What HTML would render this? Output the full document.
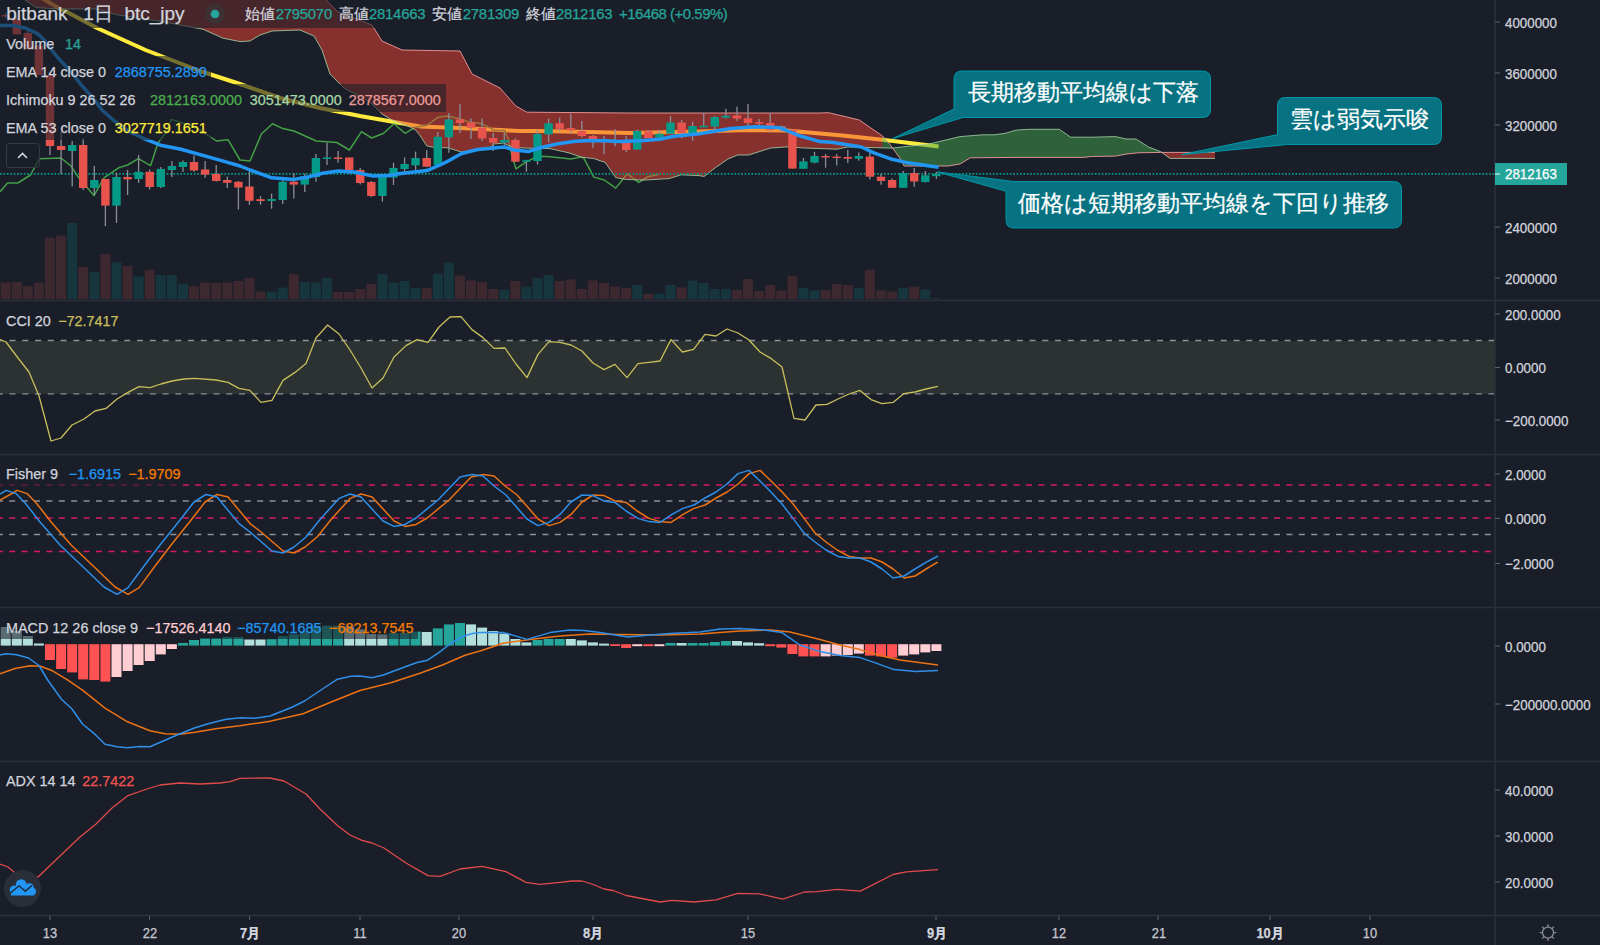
<!DOCTYPE html>
<html><head><meta charset="utf-8"><style>
html,body{margin:0;padding:0;width:1600px;height:945px;overflow:hidden;background:#1a1e29;}
body{position:relative;font-family:"Liberation Sans",sans-serif;}
.t{position:absolute;white-space:nowrap;line-height:16px;-webkit-text-stroke:0.25px currentColor;}
</style></head><body>
<svg width="1600" height="945" viewBox="0 0 1600 945" style="position:absolute;left:0;top:0">
<rect x="0" y="0" width="1600" height="945" fill="#1a1e29"/>
<defs><clipPath id="cm"><rect x="0" y="0" width="1494" height="300"/></clipPath><clipPath id="c2"><rect x="0" y="301" width="1494" height="153"/></clipPath><clipPath id="c3"><rect x="0" y="455" width="1494" height="152"/></clipPath><clipPath id="c4"><rect x="0" y="608" width="1494" height="153"/></clipPath><clipPath id="c5"><rect x="0" y="762" width="1494" height="153"/></clipPath></defs>
<g clip-path="url(#cm)">
<rect x="0.7" y="282.4" width="10" height="16.6" fill="#3d2830"/>
<rect x="11.8" y="282.0" width="10" height="17.0" fill="#3d2830"/>
<rect x="22.8" y="286.0" width="10" height="13.0" fill="#3d2830"/>
<rect x="33.9" y="282.6" width="10" height="16.4" fill="#3d2830"/>
<rect x="45.0" y="238.0" width="10" height="61.0" fill="#3d2830"/>
<rect x="56.1" y="235.6" width="10" height="63.4" fill="#3d2830"/>
<rect x="67.2" y="223.0" width="10" height="76.0" fill="#16353c"/>
<rect x="78.2" y="267.0" width="10" height="32.0" fill="#3d2830"/>
<rect x="89.3" y="272.0" width="10" height="27.0" fill="#16353c"/>
<rect x="100.4" y="254.0" width="10" height="45.0" fill="#3d2830"/>
<rect x="111.5" y="262.4" width="10" height="36.6" fill="#16353c"/>
<rect x="122.6" y="266.0" width="10" height="33.0" fill="#3d2830"/>
<rect x="133.6" y="276.4" width="10" height="22.6" fill="#16353c"/>
<rect x="144.7" y="270.0" width="10" height="29.0" fill="#3d2830"/>
<rect x="155.8" y="275.0" width="10" height="24.0" fill="#16353c"/>
<rect x="166.9" y="275.0" width="10" height="24.0" fill="#16353c"/>
<rect x="178.0" y="283.6" width="10" height="15.4" fill="#16353c"/>
<rect x="189.0" y="286.4" width="10" height="12.6" fill="#3d2830"/>
<rect x="200.1" y="282.4" width="10" height="16.6" fill="#3d2830"/>
<rect x="211.2" y="283.0" width="10" height="16.0" fill="#3d2830"/>
<rect x="222.3" y="282.4" width="10" height="16.6" fill="#3d2830"/>
<rect x="233.4" y="281.0" width="10" height="18.0" fill="#3d2830"/>
<rect x="244.4" y="278.0" width="10" height="21.0" fill="#3d2830"/>
<rect x="255.5" y="291.6" width="10" height="7.4" fill="#3d2830"/>
<rect x="266.6" y="291.6" width="10" height="7.4" fill="#16353c"/>
<rect x="277.7" y="287.6" width="10" height="11.4" fill="#16353c"/>
<rect x="288.8" y="274.0" width="10" height="25.0" fill="#3d2830"/>
<rect x="299.8" y="282.0" width="10" height="17.0" fill="#16353c"/>
<rect x="310.9" y="282.4" width="10" height="16.6" fill="#16353c"/>
<rect x="322.0" y="278.0" width="10" height="21.0" fill="#16353c"/>
<rect x="333.1" y="292.0" width="10" height="7.0" fill="#3d2830"/>
<rect x="344.2" y="292.0" width="10" height="7.0" fill="#3d2830"/>
<rect x="355.2" y="289.0" width="10" height="10.0" fill="#3d2830"/>
<rect x="366.3" y="284.0" width="10" height="15.0" fill="#3d2830"/>
<rect x="377.4" y="274.0" width="10" height="25.0" fill="#16353c"/>
<rect x="388.5" y="282.6" width="10" height="16.4" fill="#16353c"/>
<rect x="399.6" y="281.0" width="10" height="18.0" fill="#16353c"/>
<rect x="410.6" y="288.0" width="10" height="11.0" fill="#16353c"/>
<rect x="421.7" y="288.0" width="10" height="11.0" fill="#3d2830"/>
<rect x="432.8" y="273.6" width="10" height="25.4" fill="#16353c"/>
<rect x="443.9" y="262.6" width="10" height="36.4" fill="#16353c"/>
<rect x="455.0" y="275.6" width="10" height="23.4" fill="#3d2830"/>
<rect x="466.0" y="280.4" width="10" height="18.6" fill="#3d2830"/>
<rect x="477.1" y="282.0" width="10" height="17.0" fill="#3d2830"/>
<rect x="488.2" y="289.0" width="10" height="10.0" fill="#3d2830"/>
<rect x="499.3" y="289.6" width="10" height="9.4" fill="#16353c"/>
<rect x="510.4" y="281.0" width="10" height="18.0" fill="#3d2830"/>
<rect x="521.4" y="286.6" width="10" height="12.4" fill="#16353c"/>
<rect x="532.5" y="278.0" width="10" height="21.0" fill="#16353c"/>
<rect x="543.6" y="275.0" width="10" height="24.0" fill="#16353c"/>
<rect x="554.7" y="281.0" width="10" height="18.0" fill="#3d2830"/>
<rect x="565.8" y="279.4" width="10" height="19.6" fill="#3d2830"/>
<rect x="576.8" y="289.0" width="10" height="10.0" fill="#3d2830"/>
<rect x="587.9" y="280.4" width="10" height="18.6" fill="#3d2830"/>
<rect x="599.0" y="283.0" width="10" height="16.0" fill="#3d2830"/>
<rect x="610.1" y="286.6" width="10" height="12.4" fill="#3d2830"/>
<rect x="621.2" y="288.0" width="10" height="11.0" fill="#3d2830"/>
<rect x="632.2" y="285.0" width="10" height="14.0" fill="#16353c"/>
<rect x="643.3" y="294.0" width="10" height="5.0" fill="#3d2830"/>
<rect x="654.4" y="293.6" width="10" height="5.4" fill="#16353c"/>
<rect x="665.5" y="285.0" width="10" height="14.0" fill="#16353c"/>
<rect x="676.6" y="287.4" width="10" height="11.6" fill="#3d2830"/>
<rect x="687.6" y="280.6" width="10" height="18.4" fill="#16353c"/>
<rect x="698.7" y="283.0" width="10" height="16.0" fill="#16353c"/>
<rect x="709.8" y="289.0" width="10" height="10.0" fill="#16353c"/>
<rect x="720.9" y="289.0" width="10" height="10.0" fill="#16353c"/>
<rect x="732.0" y="290.0" width="10" height="9.0" fill="#3d2830"/>
<rect x="743.0" y="279.0" width="10" height="20.0" fill="#3d2830"/>
<rect x="754.1" y="291.0" width="10" height="8.0" fill="#3d2830"/>
<rect x="765.2" y="285.0" width="10" height="14.0" fill="#3d2830"/>
<rect x="776.3" y="290.4" width="10" height="8.6" fill="#3d2830"/>
<rect x="787.4" y="276.0" width="10" height="23.0" fill="#3d2830"/>
<rect x="798.4" y="288.0" width="10" height="11.0" fill="#16353c"/>
<rect x="809.5" y="290.4" width="10" height="8.6" fill="#16353c"/>
<rect x="820.6" y="290.0" width="10" height="9.0" fill="#3d2830"/>
<rect x="831.7" y="284.0" width="10" height="15.0" fill="#3d2830"/>
<rect x="842.8" y="285.0" width="10" height="14.0" fill="#3d2830"/>
<rect x="853.8" y="288.0" width="10" height="11.0" fill="#16353c"/>
<rect x="864.9" y="270.0" width="10" height="29.0" fill="#3d2830"/>
<rect x="876.0" y="290.4" width="10" height="8.6" fill="#3d2830"/>
<rect x="887.1" y="291.6" width="10" height="7.4" fill="#3d2830"/>
<rect x="898.2" y="288.0" width="10" height="11.0" fill="#16353c"/>
<rect x="909.2" y="286.6" width="10" height="12.4" fill="#3d2830"/>
<rect x="920.3" y="289.4" width="10" height="9.6" fill="#16353c"/>
<rect x="931.4" y="298.0" width="10" height="1.0" fill="#16353c"/>
<polyline points="40.0,-3.0 60.0,9.0 67.0,12.0 97.0,28.0 145.5,50.0 200.0,71.0 240.0,84.0 280.0,98.0 320.0,108.0 360.0,116.0 400.0,123.0 420.0,126.4 460.0,128.0 520.0,131.0 541.0,131.0 588.7,132.0 630.0,133.0 699.4,131.6 747.0,130.0 786.7,130.5 820.0,133.6 842.3,135.4 882.5,139.7 938.6,146.6" fill="none" stroke="#ffeb3b" stroke-width="4" stroke-linejoin="round" stroke-linecap="butt"/>
<polyline points="0.0,191.7 7.6,183.0 17.8,183.0 30.5,175.0 39.4,158.7 61.0,158.0 71.0,166.0 78.7,177.8 94.0,195.6 104.0,177.8 119.0,167.6 127.6,165.0 138.4,158.7 150.5,165.7 158.0,142.9 165.7,132.7 171.5,119.4 196.9,127.8 216.5,141.0 228.0,139.7 240.0,160.0 250.0,161.0 261.4,134.0 272.5,123.8 282.9,128.6 294.0,131.0 316.2,141.0 336.8,142.5 349.5,150.0 361.4,131.7 371.7,138.0 383.7,133.3 394.0,123.8 405.0,133.3 414.7,127.6 426.9,125.3 438.0,117.3 447.5,116.0 459.7,118.7 469.0,122.0 481.2,123.4 490.6,128.1 494.4,130.5 504.7,130.5 508.4,139.4 511.2,152.5 515.9,168.9 526.2,161.9 532.8,158.6 541.2,156.2 550.0,156.7 571.0,159.0 580.5,157.1 583.8,158.1 593.8,177.1 604.3,180.0 615.7,188.1 622.9,179.3 627.1,173.8 633.8,178.6 638.6,182.4 644.3,179.0 648.1,176.7 658.6,174.6" fill="none" stroke="#43a047" stroke-width="1.5" stroke-linejoin="round"/>
<polygon points="25.0,-2.0 26.0,-10.0 36.0,-10.0 60.0,-10.0 97.0,-10.0 116.0,-10.0 161.0,-10.0 203.0,-10.0 223.0,-10.0 240.0,-10.0 250.0,-10.0 260.0,-10.0 272.0,-10.0 300.0,-10.0 314.0,-10.0 322.0,-10.0 326.0,0.0 330.0,4.0 338.0,12.0 344.0,14.3 370.0,24.2 372.0,25.0 382.0,41.0 392.0,45.5 402.0,50.0 410.0,50.1 415.6,50.2 419.4,50.3 426.9,50.4 433.4,50.5 447.5,50.8 460.0,51.0 461.6,54.1 472.0,74.0 489.7,82.8 494.4,85.2 500.0,88.0 503.8,92.3 509.4,98.7 515.7,105.9 519.7,108.2 526.8,112.2 531.9,112.2 550.0,112.4 569.0,112.5 581.4,112.6 593.8,112.7 605.2,112.8 615.7,112.9 626.2,113.0 630.0,113.0 645.2,113.0 669.0,113.0 681.4,113.0 700.0,113.0 704.0,113.0 715.2,113.0 728.0,113.0 737.5,113.0 748.6,113.0 770.8,113.0 788.3,113.0 804.0,113.0 820.0,113.0 828.6,112.7 837.0,114.7 847.6,117.2 859.3,120.0 882.5,136.0 882.5,147.9 859.3,147.3 847.6,147.0 837.0,149.2 828.6,148.9 820.0,148.6 804.0,148.0 788.3,146.8 770.8,148.0 748.6,155.0 737.5,155.0 728.0,159.0 715.2,167.8 704.0,176.5 700.0,175.7 681.4,174.8 669.0,178.6 645.2,180.0 630.0,179.6 626.2,179.5 615.7,177.6 605.2,162.4 593.8,158.6 581.4,157.1 569.0,152.9 550.0,148.6 531.9,148.3 526.8,148.1 519.7,147.8 515.7,147.1 509.4,146.0 503.8,143.0 500.0,143.4 494.4,144.0 489.7,147.8 472.0,150.4 461.6,152.0 460.0,151.5 447.5,147.8 433.4,147.3 426.9,146.0 419.4,134.7 415.6,130.0 410.0,127.0 402.0,123.9 392.0,120.0 382.0,114.0 372.0,104.0 370.0,102.0 344.0,88.0 338.0,82.0 330.0,74.0 326.0,62.0 322.0,50.0 314.0,36.0 300.0,30.0 272.0,31.0 260.0,35.0 250.0,41.0 240.0,41.6 223.0,38.2 203.0,29.2 161.0,21.4 116.0,14.6 97.0,9.0 60.0,9.0 36.0,7.6 26.0,0.7" fill="rgba(244,67,54,0.5)"/>
<polygon points="882.5,147.9 890.0,148.1 892.0,148.1 899.5,147.2 904.2,146.7 930.0,143.8 948.0,139.5 960.0,136.6 970.3,135.8 982.5,134.8 993.8,134.8 1005.0,133.4 1014.4,130.7 1016.0,130.2 1027.5,129.3 1059.4,129.3 1070.6,137.2 1083.8,137.2 1091.2,137.2 1115.6,136.6 1126.0,139.0 1126.9,139.0 1136.0,139.0 1138.0,140.3 1148.4,147.0 1160.6,151.6 1160.6,152.4 1148.4,152.6 1138.0,152.8 1136.0,153.0 1126.9,154.0 1126.0,154.2 1115.6,156.1 1091.2,156.5 1083.8,157.4 1070.6,157.4 1059.4,157.4 1027.5,157.4 1016.0,157.4 1014.4,157.4 1005.0,157.5 993.8,157.6 982.5,157.7 970.3,157.8 960.0,164.0 948.0,166.0 930.0,166.0 904.2,166.0 899.5,157.7 892.0,147.2 890.0,144.4 882.5,136.0" fill="rgba(67,165,77,0.5)"/>
<polygon points="1160.6,152.4 1170.0,152.4 1215.0,152.4 1215.0,158.4 1170.0,158.4 1160.6,151.6" fill="rgba(244,67,54,0.5)"/>
<polyline points="25.0,0.0 36.0,7.6 60.0,9.0 97.0,9.0 116.0,14.6 161.0,21.4 203.0,29.2 223.0,38.2 240.0,41.6 250.0,41.0 260.0,35.0 272.0,31.0 300.0,30.0 314.0,36.0 322.0,50.0 330.0,74.0 344.0,88.0 370.0,102.0 382.0,114.0 392.0,120.0 410.0,127.0 415.6,130.0 419.4,134.7 426.9,146.0 433.4,147.3 447.5,147.8 461.6,152.0 489.7,147.8 494.4,144.0 503.8,143.0 509.4,146.0 519.7,147.8 531.9,148.3 550.0,148.6 569.0,152.9 581.4,157.1 593.8,158.6 605.2,162.4 615.7,177.6 626.2,179.5 645.2,180.0 669.0,178.6 681.4,174.8 700.0,175.7 704.0,176.5 715.2,167.8 728.0,159.0 737.5,155.0 748.6,155.0 770.8,148.0 788.3,146.8 804.0,148.0 837.0,149.2 847.6,147.0 892.0,148.1 930.0,143.8 960.0,136.6 982.5,134.8 993.8,134.8 1005.0,133.4 1016.0,130.2 1027.5,129.3 1059.4,129.3 1070.6,137.2 1091.2,137.2 1115.6,136.6 1126.0,139.0 1136.0,139.0 1148.4,147.0 1160.6,151.6 1170.0,158.4 1215.0,158.4" fill="none" stroke="#a5d6a7" stroke-width="1" opacity="0.8"/>
<polyline points="326.0,0.0 338.0,12.0 372.0,25.0 382.0,41.0 402.0,50.0 460.0,51.0 472.0,74.0 500.0,88.0 515.7,105.9 526.8,112.2 630.0,113.0 820.0,113.0 828.6,112.7 859.3,120.0 882.5,136.0 890.0,144.4 899.5,157.7 904.2,166.0 948.0,166.0 960.0,164.0 970.3,157.8 1014.4,157.4 1083.8,157.4 1091.2,156.5 1115.6,156.1 1126.9,154.0 1138.0,152.8 1160.6,152.4 1215.0,152.4" fill="none" stroke="#ef9a9a" stroke-width="1" opacity="0.9"/>
<line x1="0" y1="173.9" x2="1494" y2="173.9" stroke="#049a88" stroke-width="1.6" stroke-dasharray="1.7 1.7"/>
<line x1="5.7" y1="13.0" x2="5.7" y2="18.0" stroke="#8c8f98" stroke-width="1.3"/>
<rect x="1.5" y="15.0" width="8.4" height="1.5" fill="#e8544d"/>
<line x1="16.8" y1="16.5" x2="16.8" y2="34.3" stroke="#8c8f98" stroke-width="1.3"/>
<rect x="12.6" y="19.0" width="8.4" height="15.3" fill="#e8544d"/>
<line x1="27.8" y1="30.0" x2="27.8" y2="49.5" stroke="#8c8f98" stroke-width="1.3"/>
<rect x="23.6" y="33.0" width="8.4" height="16.5" fill="#e8544d"/>
<line x1="38.9" y1="44.0" x2="38.9" y2="75.0" stroke="#8c8f98" stroke-width="1.3"/>
<rect x="34.7" y="45.7" width="8.4" height="29.3" fill="#e8544d"/>
<line x1="50.0" y1="75.0" x2="50.0" y2="155.0" stroke="#8c8f98" stroke-width="1.3"/>
<rect x="45.8" y="75.0" width="8.4" height="71.0" fill="#e8544d"/>
<line x1="61.1" y1="132.0" x2="61.1" y2="174.0" stroke="#8c8f98" stroke-width="1.3"/>
<rect x="56.9" y="146.0" width="8.4" height="4.0" fill="#e8544d"/>
<line x1="72.2" y1="141.0" x2="72.2" y2="186.6" stroke="#8c8f98" stroke-width="1.3"/>
<rect x="68.0" y="145.0" width="8.4" height="6.0" fill="#049a88"/>
<line x1="83.2" y1="138.0" x2="83.2" y2="190.0" stroke="#8c8f98" stroke-width="1.3"/>
<rect x="79.0" y="145.0" width="8.4" height="43.0" fill="#e8544d"/>
<line x1="94.3" y1="166.0" x2="94.3" y2="195.0" stroke="#8c8f98" stroke-width="1.3"/>
<rect x="90.1" y="180.0" width="8.4" height="8.0" fill="#049a88"/>
<line x1="105.4" y1="179.0" x2="105.4" y2="226.0" stroke="#8c8f98" stroke-width="1.3"/>
<rect x="101.2" y="179.0" width="8.4" height="26.6" fill="#e8544d"/>
<line x1="116.5" y1="172.6" x2="116.5" y2="223.0" stroke="#8c8f98" stroke-width="1.3"/>
<rect x="112.3" y="177.0" width="8.4" height="28.6" fill="#049a88"/>
<line x1="127.6" y1="170.0" x2="127.6" y2="195.0" stroke="#8c8f98" stroke-width="1.3"/>
<rect x="123.4" y="177.0" width="8.4" height="2.4" fill="#e8544d"/>
<line x1="138.6" y1="155.0" x2="138.6" y2="182.8" stroke="#8c8f98" stroke-width="1.3"/>
<rect x="134.4" y="171.8" width="8.4" height="7.2" fill="#049a88"/>
<line x1="149.7" y1="169.5" x2="149.7" y2="189.6" stroke="#8c8f98" stroke-width="1.3"/>
<rect x="145.5" y="171.8" width="8.4" height="15.2" fill="#e8544d"/>
<line x1="160.8" y1="167.0" x2="160.8" y2="188.0" stroke="#8c8f98" stroke-width="1.3"/>
<rect x="156.6" y="168.9" width="8.4" height="18.1" fill="#049a88"/>
<line x1="171.9" y1="161.0" x2="171.9" y2="177.0" stroke="#8c8f98" stroke-width="1.3"/>
<rect x="167.7" y="166.0" width="8.4" height="4.0" fill="#049a88"/>
<line x1="183.0" y1="160.6" x2="183.0" y2="172.0" stroke="#8c8f98" stroke-width="1.3"/>
<rect x="178.8" y="162.0" width="8.4" height="5.0" fill="#049a88"/>
<line x1="194.0" y1="155.5" x2="194.0" y2="171.8" stroke="#8c8f98" stroke-width="1.3"/>
<rect x="189.8" y="162.0" width="8.4" height="8.5" fill="#e8544d"/>
<line x1="205.1" y1="161.0" x2="205.1" y2="177.8" stroke="#8c8f98" stroke-width="1.3"/>
<rect x="200.9" y="169.5" width="8.4" height="5.1" fill="#e8544d"/>
<line x1="216.2" y1="165.0" x2="216.2" y2="181.6" stroke="#8c8f98" stroke-width="1.3"/>
<rect x="212.0" y="174.0" width="8.4" height="7.0" fill="#e8544d"/>
<line x1="227.3" y1="176.5" x2="227.3" y2="188.0" stroke="#8c8f98" stroke-width="1.3"/>
<rect x="223.1" y="180.0" width="8.4" height="2.8" fill="#e8544d"/>
<line x1="238.4" y1="181.0" x2="238.4" y2="209.5" stroke="#8c8f98" stroke-width="1.3"/>
<rect x="234.2" y="181.8" width="8.4" height="5.7" fill="#e8544d"/>
<line x1="249.4" y1="170.6" x2="249.4" y2="204.8" stroke="#8c8f98" stroke-width="1.3"/>
<rect x="245.2" y="186.5" width="8.4" height="14.3" fill="#e8544d"/>
<line x1="260.5" y1="196.0" x2="260.5" y2="204.8" stroke="#8c8f98" stroke-width="1.3"/>
<rect x="256.3" y="199.2" width="8.4" height="1.8" fill="#e8544d"/>
<line x1="271.6" y1="193.7" x2="271.6" y2="208.7" stroke="#8c8f98" stroke-width="1.3"/>
<rect x="267.4" y="199.0" width="8.4" height="2.0" fill="#049a88"/>
<line x1="282.7" y1="180.0" x2="282.7" y2="204.0" stroke="#8c8f98" stroke-width="1.3"/>
<rect x="278.5" y="181.7" width="8.4" height="18.3" fill="#049a88"/>
<line x1="293.8" y1="173.0" x2="293.8" y2="198.4" stroke="#8c8f98" stroke-width="1.3"/>
<rect x="289.6" y="181.7" width="8.4" height="2.9" fill="#e8544d"/>
<line x1="304.8" y1="173.8" x2="304.8" y2="192.0" stroke="#8c8f98" stroke-width="1.3"/>
<rect x="300.6" y="176.0" width="8.4" height="8.6" fill="#049a88"/>
<line x1="315.9" y1="154.0" x2="315.9" y2="181.7" stroke="#8c8f98" stroke-width="1.3"/>
<rect x="311.7" y="158.0" width="8.4" height="19.0" fill="#049a88"/>
<line x1="327.0" y1="143.0" x2="327.0" y2="165.0" stroke="#8c8f98" stroke-width="1.3"/>
<rect x="322.8" y="157.5" width="8.4" height="1.5" fill="#049a88"/>
<line x1="338.1" y1="151.0" x2="338.1" y2="162.7" stroke="#8c8f98" stroke-width="1.3"/>
<rect x="333.9" y="157.5" width="8.4" height="1.5" fill="#e8544d"/>
<line x1="349.2" y1="157.5" x2="349.2" y2="173.8" stroke="#8c8f98" stroke-width="1.3"/>
<rect x="345.0" y="157.5" width="8.4" height="12.5" fill="#e8544d"/>
<line x1="360.2" y1="168.0" x2="360.2" y2="184.4" stroke="#8c8f98" stroke-width="1.3"/>
<rect x="356.0" y="170.0" width="8.4" height="13.0" fill="#e8544d"/>
<line x1="371.3" y1="181.0" x2="371.3" y2="197.0" stroke="#8c8f98" stroke-width="1.3"/>
<rect x="367.1" y="182.0" width="8.4" height="14.0" fill="#e8544d"/>
<line x1="382.4" y1="174.6" x2="382.4" y2="201.6" stroke="#8c8f98" stroke-width="1.3"/>
<rect x="378.2" y="177.0" width="8.4" height="19.0" fill="#049a88"/>
<line x1="393.5" y1="162.7" x2="393.5" y2="185.0" stroke="#8c8f98" stroke-width="1.3"/>
<rect x="389.3" y="168.0" width="8.4" height="9.5" fill="#049a88"/>
<line x1="404.6" y1="157.5" x2="404.6" y2="172.0" stroke="#8c8f98" stroke-width="1.3"/>
<rect x="400.4" y="164.0" width="8.4" height="5.0" fill="#049a88"/>
<line x1="415.6" y1="151.6" x2="415.6" y2="170.6" stroke="#8c8f98" stroke-width="1.3"/>
<rect x="411.4" y="158.0" width="8.4" height="7.4" fill="#049a88"/>
<line x1="426.7" y1="150.0" x2="426.7" y2="166.7" stroke="#8c8f98" stroke-width="1.3"/>
<rect x="422.5" y="158.0" width="8.4" height="8.7" fill="#e8544d"/>
<line x1="437.8" y1="132.0" x2="437.8" y2="166.0" stroke="#8c8f98" stroke-width="1.3"/>
<rect x="433.6" y="136.8" width="8.4" height="28.6" fill="#049a88"/>
<line x1="448.9" y1="113.0" x2="448.9" y2="152.7" stroke="#8c8f98" stroke-width="1.3"/>
<rect x="444.7" y="119.4" width="8.4" height="17.9" fill="#049a88"/>
<line x1="460.0" y1="104.3" x2="460.0" y2="133.0" stroke="#8c8f98" stroke-width="1.3"/>
<rect x="455.8" y="119.4" width="8.4" height="3.6" fill="#e8544d"/>
<line x1="471.0" y1="118.6" x2="471.0" y2="139.0" stroke="#8c8f98" stroke-width="1.3"/>
<rect x="466.8" y="122.5" width="8.4" height="5.3" fill="#e8544d"/>
<line x1="482.1" y1="118.6" x2="482.1" y2="141.0" stroke="#8c8f98" stroke-width="1.3"/>
<rect x="477.9" y="127.8" width="8.4" height="10.6" fill="#e8544d"/>
<line x1="493.2" y1="132.9" x2="493.2" y2="151.0" stroke="#8c8f98" stroke-width="1.3"/>
<rect x="489.0" y="138.0" width="8.4" height="4.7" fill="#e8544d"/>
<line x1="504.3" y1="132.5" x2="504.3" y2="145.6" stroke="#8c8f98" stroke-width="1.3"/>
<rect x="500.1" y="140.0" width="8.4" height="2.7" fill="#049a88"/>
<line x1="515.4" y1="138.4" x2="515.4" y2="162.0" stroke="#8c8f98" stroke-width="1.3"/>
<rect x="511.2" y="140.0" width="8.4" height="21.7" fill="#e8544d"/>
<line x1="526.4" y1="159.8" x2="526.4" y2="171.7" stroke="#8c8f98" stroke-width="1.3"/>
<rect x="522.2" y="160.3" width="8.4" height="1.5" fill="#049a88"/>
<line x1="537.5" y1="129.7" x2="537.5" y2="164.6" stroke="#8c8f98" stroke-width="1.3"/>
<rect x="533.3" y="134.0" width="8.4" height="27.0" fill="#049a88"/>
<line x1="548.6" y1="118.6" x2="548.6" y2="142.4" stroke="#8c8f98" stroke-width="1.3"/>
<rect x="544.4" y="123.3" width="8.4" height="11.1" fill="#049a88"/>
<line x1="559.7" y1="117.8" x2="559.7" y2="131.6" stroke="#8c8f98" stroke-width="1.3"/>
<rect x="555.5" y="123.3" width="8.4" height="5.6" fill="#e8544d"/>
<line x1="570.8" y1="113.8" x2="570.8" y2="132.9" stroke="#8c8f98" stroke-width="1.3"/>
<rect x="566.6" y="128.0" width="8.4" height="2.5" fill="#e8544d"/>
<line x1="581.8" y1="121.0" x2="581.8" y2="137.6" stroke="#8c8f98" stroke-width="1.3"/>
<rect x="577.6" y="131.0" width="8.4" height="5.0" fill="#e8544d"/>
<line x1="592.9" y1="135.0" x2="592.9" y2="148.0" stroke="#8c8f98" stroke-width="1.3"/>
<rect x="588.7" y="136.0" width="8.4" height="5.0" fill="#e8544d"/>
<line x1="604.0" y1="136.0" x2="604.0" y2="154.3" stroke="#8c8f98" stroke-width="1.3"/>
<rect x="599.8" y="140.8" width="8.4" height="1.5" fill="#e8544d"/>
<line x1="615.1" y1="128.9" x2="615.1" y2="146.3" stroke="#8c8f98" stroke-width="1.3"/>
<rect x="610.9" y="141.0" width="8.4" height="1.5" fill="#e8544d"/>
<line x1="626.2" y1="136.0" x2="626.2" y2="152.0" stroke="#8c8f98" stroke-width="1.3"/>
<rect x="622.0" y="142.0" width="8.4" height="8.0" fill="#e8544d"/>
<line x1="637.2" y1="129.7" x2="637.2" y2="149.5" stroke="#8c8f98" stroke-width="1.3"/>
<rect x="633.0" y="131.0" width="8.4" height="18.5" fill="#049a88"/>
<line x1="648.3" y1="130.0" x2="648.3" y2="138.0" stroke="#8c8f98" stroke-width="1.3"/>
<rect x="644.1" y="131.3" width="8.4" height="6.7" fill="#e8544d"/>
<line x1="659.4" y1="129.7" x2="659.4" y2="139.0" stroke="#8c8f98" stroke-width="1.3"/>
<rect x="655.2" y="133.7" width="8.4" height="3.9" fill="#049a88"/>
<line x1="670.5" y1="116.0" x2="670.5" y2="133.7" stroke="#8c8f98" stroke-width="1.3"/>
<rect x="666.3" y="122.5" width="8.4" height="11.2" fill="#049a88"/>
<line x1="681.6" y1="120.0" x2="681.6" y2="138.4" stroke="#8c8f98" stroke-width="1.3"/>
<rect x="677.4" y="122.5" width="8.4" height="10.5" fill="#e8544d"/>
<line x1="692.6" y1="121.7" x2="692.6" y2="140.8" stroke="#8c8f98" stroke-width="1.3"/>
<rect x="688.4" y="126.0" width="8.4" height="7.0" fill="#049a88"/>
<line x1="703.7" y1="113.0" x2="703.7" y2="127.3" stroke="#8c8f98" stroke-width="1.3"/>
<rect x="699.5" y="125.7" width="8.4" height="1.6" fill="#049a88"/>
<line x1="714.8" y1="116.0" x2="714.8" y2="128.9" stroke="#8c8f98" stroke-width="1.3"/>
<rect x="710.6" y="117.0" width="8.4" height="9.5" fill="#049a88"/>
<line x1="725.9" y1="108.7" x2="725.9" y2="118.6" stroke="#8c8f98" stroke-width="1.3"/>
<rect x="721.7" y="115.7" width="8.4" height="2.1" fill="#049a88"/>
<line x1="737.0" y1="106.7" x2="737.0" y2="121.0" stroke="#8c8f98" stroke-width="1.3"/>
<rect x="732.8" y="115.4" width="8.4" height="3.2" fill="#e8544d"/>
<line x1="748.0" y1="104.0" x2="748.0" y2="127.8" stroke="#8c8f98" stroke-width="1.3"/>
<rect x="743.8" y="118.3" width="8.4" height="4.7" fill="#e8544d"/>
<line x1="759.1" y1="119.0" x2="759.1" y2="126.2" stroke="#8c8f98" stroke-width="1.3"/>
<rect x="754.9" y="122.2" width="8.4" height="1.6" fill="#e8544d"/>
<line x1="770.2" y1="113.5" x2="770.2" y2="131.6" stroke="#8c8f98" stroke-width="1.3"/>
<rect x="766.0" y="123.0" width="8.4" height="7.0" fill="#e8544d"/>
<line x1="781.3" y1="125.5" x2="781.3" y2="131.5" stroke="#8c8f98" stroke-width="1.3"/>
<rect x="777.1" y="126.5" width="8.4" height="1.5" fill="#9598a1"/>
<line x1="792.4" y1="129.7" x2="792.4" y2="168.6" stroke="#8c8f98" stroke-width="1.3"/>
<rect x="788.2" y="129.7" width="8.4" height="38.9" fill="#e8544d"/>
<line x1="803.4" y1="158.0" x2="803.4" y2="168.8" stroke="#8c8f98" stroke-width="1.3"/>
<rect x="799.2" y="161.4" width="8.4" height="7.4" fill="#049a88"/>
<line x1="814.5" y1="151.9" x2="814.5" y2="163.5" stroke="#8c8f98" stroke-width="1.3"/>
<rect x="810.3" y="156.0" width="8.4" height="6.6" fill="#049a88"/>
<line x1="825.6" y1="154.0" x2="825.6" y2="167.7" stroke="#8c8f98" stroke-width="1.3"/>
<rect x="821.4" y="156.0" width="8.4" height="1.5" fill="#e8544d"/>
<line x1="836.7" y1="154.0" x2="836.7" y2="165.6" stroke="#8c8f98" stroke-width="1.3"/>
<rect x="832.5" y="156.6" width="8.4" height="1.5" fill="#e8544d"/>
<line x1="847.8" y1="149.7" x2="847.8" y2="163.0" stroke="#8c8f98" stroke-width="1.3"/>
<rect x="843.6" y="157.0" width="8.4" height="1.7" fill="#e8544d"/>
<line x1="858.8" y1="152.4" x2="858.8" y2="160.8" stroke="#8c8f98" stroke-width="1.3"/>
<rect x="854.6" y="156.0" width="8.4" height="2.7" fill="#049a88"/>
<line x1="869.9" y1="151.9" x2="869.9" y2="179.4" stroke="#8c8f98" stroke-width="1.3"/>
<rect x="865.7" y="156.6" width="8.4" height="20.1" fill="#e8544d"/>
<line x1="881.0" y1="174.0" x2="881.0" y2="184.7" stroke="#8c8f98" stroke-width="1.3"/>
<rect x="876.8" y="176.7" width="8.4" height="4.3" fill="#e8544d"/>
<line x1="892.1" y1="178.5" x2="892.1" y2="187.8" stroke="#8c8f98" stroke-width="1.3"/>
<rect x="887.9" y="180.0" width="8.4" height="7.8" fill="#e8544d"/>
<line x1="903.2" y1="171.0" x2="903.2" y2="187.8" stroke="#8c8f98" stroke-width="1.3"/>
<rect x="899.0" y="173.0" width="8.4" height="14.8" fill="#049a88"/>
<line x1="914.2" y1="168.0" x2="914.2" y2="186.8" stroke="#8c8f98" stroke-width="1.3"/>
<rect x="910.0" y="173.0" width="8.4" height="8.5" fill="#e8544d"/>
<line x1="925.3" y1="171.0" x2="925.3" y2="182.5" stroke="#8c8f98" stroke-width="1.3"/>
<rect x="921.1" y="175.3" width="8.4" height="6.7" fill="#049a88"/>
<line x1="936.4" y1="172.0" x2="936.4" y2="178.8" stroke="#8c8f98" stroke-width="1.3"/>
<rect x="932.2" y="173.9" width="8.4" height="2.3" fill="#049a88"/>
<polyline points="0.0,25.4 12.7,25.4 25.4,28.0 38.0,33.9 44.0,39.8 50.8,49.0 59.3,59.3 70.6,71.2 81.2,84.9 91.7,96.6 102.3,110.3 112.9,119.8 128.8,131.5 144.7,138.9 160.5,145.2 180.0,149.0 221.6,160.6 240.0,166.0 250.0,170.0 271.7,177.8 294.0,179.4 308.0,177.0 322.5,173.3 338.4,171.0 354.0,172.0 373.0,176.0 389.0,175.4 398.7,173.8 427.0,170.6 440.0,165.0 445.9,162.2 461.7,153.5 477.6,149.5 504.6,147.0 514.0,150.0 528.4,151.6 541.0,147.5 557.0,144.0 572.9,141.6 588.7,140.5 604.6,140.8 620.0,141.6 640.6,140.8 659.7,139.2 674.0,136.3 699.4,133.7 731.0,128.4 755.0,126.8 778.7,127.6 786.7,130.5 797.8,135.2 820.0,141.6 831.7,142.3 861.4,147.0 874.0,152.9 892.0,159.3 905.8,162.4 938.6,167.2" fill="none" stroke="#2196f3" stroke-width="3.5" stroke-linejoin="round" stroke-linecap="butt"/>
</g>
<g clip-path="url(#c2)">
<rect x="0" y="341" width="1494" height="53" fill="#2c3231"/>
<line x1="0" y1="340.5" x2="1494" y2="340.5" stroke="#8d9099" stroke-width="1.3" stroke-dasharray="6 6.75" stroke-dashoffset="3.2"/>
<line x1="0" y1="393.9" x2="1494" y2="393.9" stroke="#8d9099" stroke-width="1.3" stroke-dasharray="6 6.75" stroke-dashoffset="3.2"/>
<polyline points="0.0,339.6 6.0,342.0 18.0,358.0 29.0,372.0 39.0,396.0 51.0,441.0 61.0,438.0 72.0,425.0 84.0,419.0 95.0,411.0 106.0,408.4 117.0,399.0 128.0,392.4 139.0,386.6 150.0,387.6 161.0,384.0 172.0,381.0 184.0,379.0 195.0,378.4 216.0,380.0 228.0,382.4 239.0,388.4 250.0,390.4 261.0,402.4 272.0,400.4 283.0,380.4 295.0,372.4 306.0,363.6 316.0,338.0 327.6,325.0 339.0,334.0 350.0,350.0 361.0,368.0 372.0,388.0 383.0,378.0 394.0,357.0 406.0,345.6 417.0,339.6 428.0,342.4 439.0,327.0 450.0,317.0 461.0,316.6 472.0,329.6 483.0,337.6 494.0,348.4 505.0,348.0 516.0,364.0 527.0,377.6 538.0,354.4 549.0,341.6 560.0,342.4 571.0,345.0 582.0,351.0 593.0,363.0 604.0,369.6 615.0,364.4 627.0,377.6 638.0,363.6 649.0,362.4 660.0,361.0 671.0,339.6 682.4,352.0 693.6,349.4 705.0,334.4 716.0,336.0 727.0,329.0 738.0,333.0 749.0,340.0 760.0,352.0 771.0,358.4 782.0,367.0 794.0,418.4 805.0,420.0 816.0,405.0 827.0,404.4 838.0,399.0 849.0,394.0 860.0,390.4 871.0,399.6 882.0,403.6 893.0,402.4 904.0,393.6 915.0,392.0 926.0,389.0 938.0,386.4" fill="none" stroke="#c6bf5c" stroke-width="1.3" stroke-linejoin="round"/>
</g>
<g clip-path="url(#c3)">
<line x1="0" y1="485" x2="1494" y2="485" stroke="#d81b60" stroke-width="1.3" stroke-dasharray="6 6.4" stroke-dashoffset="3.2"/>
<line x1="0" y1="501" x2="1494" y2="501" stroke="#8d9099" stroke-width="1.3" stroke-dasharray="6 6.4" stroke-dashoffset="3.2"/>
<line x1="0" y1="518" x2="1494" y2="518" stroke="#d81b60" stroke-width="1.3" stroke-dasharray="6 6.4" stroke-dashoffset="3.2"/>
<line x1="0" y1="534.5" x2="1494" y2="534.5" stroke="#8d9099" stroke-width="1.3" stroke-dasharray="6 6.4" stroke-dashoffset="3.2"/>
<line x1="0" y1="551.5" x2="1494" y2="551.5" stroke="#d81b60" stroke-width="1.3" stroke-dasharray="6 6.4" stroke-dashoffset="3.2"/>
<polyline points="0.0,500.0 11.1,494.0 17.1,490.4 27.1,493.6 37.1,504.0 51.1,522.0 71.1,545.0 91.1,564.0 115.1,587.0 128.1,594.4 139.1,587.6 155.1,566.0 171.1,545.0 191.1,520.0 205.1,502.0 217.1,494.4 228.1,497.0 250.1,523.6 261.1,532.0 283.1,551.0 294.1,553.0 305.1,547.0 317.1,537.0 331.1,519.5 350.1,498.4 361.1,494.0 372.1,497.0 394.1,521.0 405.1,526.4 416.1,524.4 427.1,518.0 449.1,500.0 471.1,477.0 483.1,474.4 494.1,476.0 505.1,486.0 517.1,495.0 538.1,519.0 549.1,525.6 560.1,522.4 571.1,514.4 582.1,502.0 593.1,495.0 604.1,495.6 615.1,501.0 626.1,502.4 637.1,511.0 649.1,518.4 660.1,521.6 671.1,522.4 683.1,514.4 694.1,508.4 705.1,505.0 716.1,498.0 727.1,492.0 738.1,484.0 749.1,473.6 760.1,470.4 771.1,481.0 782.1,492.0 793.1,504.0 804.1,518.4 815.1,533.0 826.1,542.0 837.1,550.0 849.1,556.4 860.1,558.0 871.1,558.0 882.1,562.0 893.1,569.0 904.1,578.0 915.1,576.0 926.1,569.0 937.1,562.4 938.0,562.4" fill="none" stroke="#ec7314" stroke-width="1.5" stroke-linejoin="round"/>
<polyline points="0.0,494.0 6.0,490.4 16.0,493.6 26.0,504.0 40.0,522.0 60.0,545.0 80.0,564.0 104.0,587.0 117.0,594.4 128.0,587.6 144.0,566.0 160.0,545.0 180.0,520.0 194.0,502.0 206.0,494.4 217.0,497.0 239.0,523.6 250.0,532.0 272.0,551.0 283.0,553.0 294.0,547.0 306.0,537.0 320.0,519.5 339.0,498.4 350.0,494.0 361.0,497.0 383.0,521.0 394.0,526.4 405.0,524.4 416.0,518.0 438.0,500.0 460.0,477.0 472.0,474.4 483.0,476.0 494.0,486.0 506.0,495.0 527.0,519.0 538.0,525.6 549.0,522.4 560.0,514.4 571.0,502.0 582.0,495.0 593.0,495.6 604.0,501.0 615.0,502.4 626.0,511.0 638.0,518.4 649.0,521.6 660.0,522.4 672.0,514.4 683.0,508.4 694.0,505.0 705.0,498.0 716.0,492.0 727.0,484.0 738.0,473.6 749.0,470.4 760.0,481.0 771.0,492.0 782.0,504.0 793.0,518.4 804.0,533.0 815.0,542.0 826.0,550.0 838.0,556.4 849.0,558.0 860.0,558.0 871.0,562.0 882.0,569.0 893.0,578.0 904.0,576.0 915.0,569.0 926.0,562.4 938.0,556.0" fill="none" stroke="#2f8fe8" stroke-width="1.5" stroke-linejoin="round"/>
</g>
<g clip-path="url(#c4)">
<rect x="0.7" y="627.0" width="10" height="18.6" fill="#b2dfdb"/>
<rect x="11.8" y="631.0" width="10" height="14.6" fill="#b2dfdb"/>
<rect x="22.8" y="636.0" width="10" height="9.6" fill="#b2dfdb"/>
<rect x="33.9" y="643.5" width="10" height="2.1" fill="#b2dfdb"/>
<rect x="45.0" y="644.2" width="10" height="15.8" fill="#ff5252"/>
<rect x="56.1" y="644.2" width="10" height="24.8" fill="#ff5252"/>
<rect x="67.2" y="644.2" width="10" height="28.2" fill="#ff5252"/>
<rect x="78.2" y="644.2" width="10" height="35.2" fill="#ff5252"/>
<rect x="89.3" y="644.2" width="10" height="35.8" fill="#ff5252"/>
<rect x="100.4" y="644.2" width="10" height="37.4" fill="#ff5252"/>
<rect x="111.5" y="644.2" width="10" height="32.8" fill="#ffcdd2"/>
<rect x="122.6" y="644.2" width="10" height="26.8" fill="#ffcdd2"/>
<rect x="133.6" y="644.2" width="10" height="20.8" fill="#ffcdd2"/>
<rect x="144.7" y="644.2" width="10" height="16.8" fill="#ffcdd2"/>
<rect x="155.8" y="644.2" width="10" height="10.2" fill="#ffcdd2"/>
<rect x="166.9" y="644.2" width="10" height="4.8" fill="#ffcdd2"/>
<rect x="178.0" y="643.0" width="10" height="2.6" fill="#26a69a"/>
<rect x="189.0" y="640.0" width="10" height="5.6" fill="#26a69a"/>
<rect x="200.1" y="638.0" width="10" height="7.6" fill="#26a69a"/>
<rect x="211.2" y="638.0" width="10" height="7.6" fill="#26a69a"/>
<rect x="222.3" y="637.0" width="10" height="8.6" fill="#26a69a"/>
<rect x="233.4" y="637.0" width="10" height="8.6" fill="#26a69a"/>
<rect x="244.4" y="639.5" width="10" height="6.1" fill="#b2dfdb"/>
<rect x="255.5" y="639.5" width="10" height="6.1" fill="#b2dfdb"/>
<rect x="266.6" y="639.2" width="10" height="6.4" fill="#26a69a"/>
<rect x="277.7" y="636.2" width="10" height="9.4" fill="#26a69a"/>
<rect x="288.8" y="634.2" width="10" height="11.4" fill="#26a69a"/>
<rect x="299.8" y="631.2" width="10" height="14.4" fill="#26a69a"/>
<rect x="310.9" y="626.0" width="10" height="19.6" fill="#26a69a"/>
<rect x="322.0" y="625.7" width="10" height="19.9" fill="#26a69a"/>
<rect x="333.1" y="625.7" width="10" height="19.9" fill="#26a69a"/>
<rect x="344.2" y="626.3" width="10" height="19.3" fill="#b2dfdb"/>
<rect x="355.2" y="629.3" width="10" height="16.3" fill="#b2dfdb"/>
<rect x="366.3" y="634.0" width="10" height="11.6" fill="#b2dfdb"/>
<rect x="377.4" y="634.4" width="10" height="11.2" fill="#b2dfdb"/>
<rect x="388.5" y="633.0" width="10" height="12.6" fill="#26a69a"/>
<rect x="399.6" y="633.0" width="10" height="12.6" fill="#26a69a"/>
<rect x="410.6" y="631.6" width="10" height="14.0" fill="#26a69a"/>
<rect x="421.7" y="632.0" width="10" height="13.6" fill="#b2dfdb"/>
<rect x="432.8" y="628.4" width="10" height="17.2" fill="#26a69a"/>
<rect x="443.9" y="624.4" width="10" height="21.2" fill="#26a69a"/>
<rect x="455.0" y="623.0" width="10" height="22.6" fill="#26a69a"/>
<rect x="466.0" y="624.4" width="10" height="21.2" fill="#b2dfdb"/>
<rect x="477.1" y="627.6" width="10" height="18.0" fill="#b2dfdb"/>
<rect x="488.2" y="631.0" width="10" height="14.6" fill="#b2dfdb"/>
<rect x="499.3" y="633.6" width="10" height="12.0" fill="#b2dfdb"/>
<rect x="510.4" y="639.0" width="10" height="6.6" fill="#b2dfdb"/>
<rect x="521.4" y="642.4" width="10" height="3.2" fill="#b2dfdb"/>
<rect x="532.5" y="640.0" width="10" height="5.6" fill="#26a69a"/>
<rect x="543.6" y="639.0" width="10" height="6.6" fill="#26a69a"/>
<rect x="554.7" y="639.0" width="10" height="6.6" fill="#26a69a"/>
<rect x="565.8" y="639.0" width="10" height="6.6" fill="#b2dfdb"/>
<rect x="576.8" y="640.4" width="10" height="5.2" fill="#b2dfdb"/>
<rect x="587.9" y="642.4" width="10" height="3.2" fill="#b2dfdb"/>
<rect x="599.0" y="643.6" width="10" height="2.0" fill="#b2dfdb"/>
<rect x="610.1" y="644.2" width="10" height="1.8" fill="#ff5252"/>
<rect x="621.2" y="644.2" width="10" height="3.8" fill="#ff5252"/>
<rect x="632.2" y="644.2" width="10" height="2.0" fill="#ffcdd2"/>
<rect x="643.3" y="644.2" width="10" height="2.0" fill="#ff5252"/>
<rect x="654.4" y="644.2" width="10" height="2.0" fill="#ffcdd2"/>
<rect x="665.5" y="643.0" width="10" height="2.6" fill="#26a69a"/>
<rect x="676.6" y="643.0" width="10" height="2.6" fill="#b2dfdb"/>
<rect x="687.6" y="643.0" width="10" height="2.6" fill="#26a69a"/>
<rect x="698.7" y="643.0" width="10" height="2.6" fill="#26a69a"/>
<rect x="709.8" y="642.0" width="10" height="3.6" fill="#26a69a"/>
<rect x="720.9" y="641.0" width="10" height="4.6" fill="#26a69a"/>
<rect x="732.0" y="641.0" width="10" height="4.6" fill="#b2dfdb"/>
<rect x="743.0" y="642.4" width="10" height="3.2" fill="#b2dfdb"/>
<rect x="754.1" y="643.2" width="10" height="2.4" fill="#b2dfdb"/>
<rect x="765.2" y="644.2" width="10" height="2.0" fill="#ff5252"/>
<rect x="776.3" y="644.2" width="10" height="3.4" fill="#ff5252"/>
<rect x="787.4" y="644.2" width="10" height="9.8" fill="#ff5252"/>
<rect x="798.4" y="644.2" width="10" height="12.2" fill="#ff5252"/>
<rect x="809.5" y="644.2" width="10" height="12.2" fill="#ff5252"/>
<rect x="820.6" y="644.2" width="10" height="12.2" fill="#ffcdd2"/>
<rect x="831.7" y="644.2" width="10" height="11.4" fill="#ffcdd2"/>
<rect x="842.8" y="644.2" width="10" height="10.8" fill="#ffcdd2"/>
<rect x="853.8" y="644.2" width="10" height="9.4" fill="#ffcdd2"/>
<rect x="864.9" y="644.2" width="10" height="11.4" fill="#ff5252"/>
<rect x="876.0" y="644.2" width="10" height="12.2" fill="#ff5252"/>
<rect x="887.1" y="644.2" width="10" height="13.4" fill="#ff5252"/>
<rect x="898.2" y="644.2" width="10" height="11.4" fill="#ffcdd2"/>
<rect x="909.2" y="644.2" width="10" height="10.2" fill="#ffcdd2"/>
<rect x="920.3" y="644.2" width="10" height="8.2" fill="#ffcdd2"/>
<rect x="931.4" y="644.2" width="10" height="6.8" fill="#ffcdd2"/>
<polyline points="0.0,673.8 15.0,668.5 30.0,665.8 40.5,666.2 52.5,670.8 67.5,679.8 82.5,690.2 105.0,708.2 127.5,721.8 150.0,730.8 165.0,733.8 180.0,734.2 195.0,732.2 217.5,728.5 240.0,725.8 270.0,721.2 303.0,713.8 330.0,702.5 360.0,690.5 390.0,683.0 420.0,673.2 442.5,665.0 465.0,655.2 480.0,651.0 504.0,643.0 530.0,639.4 560.0,636.0 590.0,634.0 620.0,634.6 660.0,635.0 700.0,634.0 740.0,631.0 770.0,630.0 790.0,632.0 800.0,634.4 820.0,639.6 840.0,645.0 860.0,649.6 880.0,655.6 900.0,660.0 938.0,665.0" fill="none" stroke="#ec7314" stroke-width="1.5" stroke-linejoin="round"/>
<polyline points="0.0,655.0 6.0,653.8 16.5,654.7 28.5,658.0 39.0,665.5 48.0,680.5 61.5,699.2 72.0,709.0 82.5,724.0 94.5,733.8 105.0,744.2 117.0,746.8 127.5,747.7 139.5,746.5 150.0,746.8 165.0,740.2 180.0,733.8 195.0,727.8 210.0,723.2 225.0,719.5 240.0,717.8 255.0,718.2 270.0,716.0 292.5,707.0 304.5,701.0 322.5,689.0 337.5,679.2 351.0,676.2 360.0,676.0 372.0,677.8 384.0,674.8 402.0,668.0 417.0,662.5 427.5,660.2 439.5,652.2 450.0,644.0 462.0,636.5 472.5,633.5 480.0,632.6 504.0,632.6 527.0,639.4 550.0,632.6 570.0,630.0 584.0,630.4 600.0,632.6 628.0,637.0 650.0,635.0 670.0,633.4 700.0,632.0 720.0,629.0 740.0,628.6 764.0,630.0 782.0,632.6 800.0,645.0 820.0,651.6 840.0,655.6 860.0,657.6 874.0,662.4 894.0,669.6 916.0,671.6 938.0,670.4" fill="none" stroke="#2f8fe8" stroke-width="1.5" stroke-linejoin="round"/>
</g>
<g clip-path="url(#c5)">
<polyline points="0.0,864.0 8.0,867.0 15.0,873.0 26.0,879.0 38.0,877.0 60.0,856.0 80.0,837.0 96.0,824.0 112.0,808.0 128.0,795.6 144.0,790.0 160.0,785.0 180.0,783.0 200.0,784.0 220.0,783.0 230.0,781.6 240.0,778.4 270.0,778.0 284.0,781.0 306.0,794.0 320.0,809.0 338.0,826.0 350.0,835.0 362.0,840.4 372.0,843.0 384.0,848.0 406.0,863.0 428.0,875.6 440.0,876.4 460.0,869.0 482.0,866.4 506.0,871.6 526.0,882.4 540.0,884.4 560.0,882.4 572.0,881.0 582.0,881.0 592.0,884.0 604.0,889.0 613.1,890.5 626.2,895.5 660.2,902.0 672.2,900.3 694.0,902.0 716.0,899.9 737.8,893.3 759.7,893.8 782.7,899.2 804.5,892.0 816.6,891.6 837.4,889.4 860.3,891.1 893.1,874.5 906.3,871.9 938.0,869.7" fill="none" stroke="#e04b4b" stroke-width="1.3" stroke-linejoin="round"/>
</g>
<line x1="0" y1="300.5" x2="1600" y2="300.5" stroke="#2c303b" stroke-width="1.5"/>
<line x1="0" y1="454.5" x2="1600" y2="454.5" stroke="#2c303b" stroke-width="1.5"/>
<line x1="0" y1="607.5" x2="1600" y2="607.5" stroke="#2c303b" stroke-width="1.5"/>
<line x1="0" y1="761.5" x2="1600" y2="761.5" stroke="#2c303b" stroke-width="1.5"/>
<line x1="0" y1="915.5" x2="1600" y2="915.5" stroke="#2c303b" stroke-width="1.5"/>
<line x1="1495" y1="0" x2="1495" y2="945" stroke="#2c303b" stroke-width="1.5"/>
<svg width="1600" height="945" style="position:absolute;left:0;top:0"><line x1="1495" y1="22" x2="1500" y2="22" stroke="#5d606b" stroke-width="1"/><line x1="1495" y1="73" x2="1500" y2="73" stroke="#5d606b" stroke-width="1"/><line x1="1495" y1="125" x2="1500" y2="125" stroke="#5d606b" stroke-width="1"/><line x1="1495" y1="227" x2="1500" y2="227" stroke="#5d606b" stroke-width="1"/><line x1="1495" y1="278" x2="1500" y2="278" stroke="#5d606b" stroke-width="1"/><line x1="1495" y1="314" x2="1500" y2="314" stroke="#5d606b" stroke-width="1"/><line x1="1495" y1="367.5" x2="1500" y2="367.5" stroke="#5d606b" stroke-width="1"/><line x1="1495" y1="420" x2="1500" y2="420" stroke="#5d606b" stroke-width="1"/><line x1="1495" y1="474" x2="1500" y2="474" stroke="#5d606b" stroke-width="1"/><line x1="1495" y1="518.5" x2="1500" y2="518.5" stroke="#5d606b" stroke-width="1"/><line x1="1495" y1="563.5" x2="1500" y2="563.5" stroke="#5d606b" stroke-width="1"/><line x1="1495" y1="646" x2="1500" y2="646" stroke="#5d606b" stroke-width="1"/><line x1="1495" y1="704" x2="1500" y2="704" stroke="#5d606b" stroke-width="1"/><line x1="1495" y1="790" x2="1500" y2="790" stroke="#5d606b" stroke-width="1"/><line x1="1495" y1="836" x2="1500" y2="836" stroke="#5d606b" stroke-width="1"/><line x1="1495" y1="882" x2="1500" y2="882" stroke="#5d606b" stroke-width="1"/><rect x="0" y="0" width="737" height="28" fill="rgba(26,30,41,0.6)"/>
<rect x="0" y="28" width="86" height="28" fill="rgba(26,30,41,0.6)"/>
<rect x="0" y="56" width="211" height="28" fill="rgba(26,30,41,0.6)"/>
<rect x="0" y="84" width="446" height="28" fill="rgba(26,30,41,0.6)"/>
<rect x="0" y="112" width="211" height="28" fill="rgba(26,30,41,0.6)"/>
<rect x="0" y="310" width="125" height="22" fill="rgba(26,30,41,0.6)"/>
<rect x="0" y="460" width="183" height="28" fill="rgba(26,30,41,0.6)"/>
<rect x="0" y="612" width="418" height="27" fill="rgba(26,30,41,0.6)"/>
<rect x="0" y="769" width="138" height="22" fill="rgba(26,30,41,0.6)"/>
<rect x="6.5" y="143.5" width="33" height="24" rx="3" fill="rgba(26,30,41,0.7)" stroke="#363a45" stroke-width="1"/>
<polyline points="18,158 22.5,153.5 27,158" fill="none" stroke="#d1d4dc" stroke-width="1.6"/>
<circle cx="215" cy="14" r="10" fill="#3a3436" opacity="0.8"/><circle cx="215" cy="14" r="4.3" fill="#26a69a"/>
<path d="M962,71 H1202.5 Q1210.5,71 1210.5,79 V109.5 Q1210.5,117.5 1202.5,117.5 H963 L892.7,138.6 L954,109 V79 Q954,71 962,71 Z" fill="#067282" stroke="#0097a7" stroke-width="1"/>
<path d="M1285.5,97.5 H1433.5 Q1441.5,97.5 1441.5,105.5 V136.5 Q1441.5,144.5 1433.5,144.5 H1287.5 L1181.6,154.7 L1277.5,134.6 V105.5 Q1277.5,97.5 1285.5,97.5 Z" fill="#067282" stroke="#0097a7" stroke-width="1"/>
<path d="M1013.75,181.5 H1393.5 Q1401.5,181.5 1401.5,189.5 V220 Q1401.5,228 1393.5,228 H1014 Q1006,228 1006,220 V191.25 L937.2,171.9 Z" fill="#067282" stroke="#0097a7" stroke-width="1"/>
<rect x="1495" y="163" width="72" height="22" fill="#26a69a"/>
<line x1="1495" y1="174" x2="1500" y2="174" stroke="#ffffff" stroke-width="1"/>
<line x1="50" y1="916" x2="50" y2="920" stroke="#5d606b" stroke-width="1"/>
<line x1="149.5" y1="916" x2="149.5" y2="920" stroke="#5d606b" stroke-width="1"/>
<line x1="249.5" y1="916" x2="249.5" y2="920" stroke="#5d606b" stroke-width="1"/>
<line x1="360" y1="916" x2="360" y2="920" stroke="#5d606b" stroke-width="1"/>
<line x1="459" y1="916" x2="459" y2="920" stroke="#5d606b" stroke-width="1"/>
<line x1="593" y1="916" x2="593" y2="920" stroke="#5d606b" stroke-width="1"/>
<line x1="748" y1="916" x2="748" y2="920" stroke="#5d606b" stroke-width="1"/>
<line x1="936" y1="916" x2="936" y2="920" stroke="#5d606b" stroke-width="1"/>
<line x1="1059" y1="916" x2="1059" y2="920" stroke="#5d606b" stroke-width="1"/>
<line x1="1158" y1="916" x2="1158" y2="920" stroke="#5d606b" stroke-width="1"/>
<line x1="1270" y1="916" x2="1270" y2="920" stroke="#5d606b" stroke-width="1"/>
<line x1="1370" y1="916" x2="1370" y2="920" stroke="#5d606b" stroke-width="1"/>
<circle cx="22.5" cy="888.5" r="18.5" fill="#2a2e39"/>
<g fill="#2196f3"><circle cx="14.2" cy="890" r="4.6"/><circle cx="21.2" cy="884.6" r="5.4"/><circle cx="29.4" cy="887.6" r="4.4"/><circle cx="32.4" cy="891.4" r="3.6"/><rect x="11" y="889" width="23" height="6.5"/></g>
<polyline points="10.4,892.9 19.1,885.8 25.3,891.3 32.2,885.3" fill="none" stroke="#1e222d" stroke-width="1.3"/>
<g transform="translate(1548,932.6)" fill="none" stroke="#868993" stroke-width="1.3"><circle r="5.5"/><line x1="5.50" y1="0.00" x2="8.30" y2="0.00"/><line x1="3.89" y1="3.89" x2="5.87" y2="5.87"/><line x1="0.00" y1="5.50" x2="0.00" y2="8.30"/><line x1="-3.89" y1="3.89" x2="-5.87" y2="5.87"/><line x1="-5.50" y1="0.00" x2="-8.30" y2="0.00"/><line x1="-3.89" y1="-3.89" x2="-5.87" y2="-5.87"/><line x1="-0.00" y1="-5.50" x2="-0.00" y2="-8.30"/><line x1="3.89" y1="-3.89" x2="5.87" y2="-5.87"/></g></svg>
<div class="t" style="left:1504.5px;top:14.5px;color:#d1d4dc;font-size:14.5px;transform:scaleX(0.92);transform-origin:0 0">4000000</div><div class="t" style="left:1504.5px;top:65.5px;color:#d1d4dc;font-size:14.5px;transform:scaleX(0.92);transform-origin:0 0">3600000</div><div class="t" style="left:1504.5px;top:117.5px;color:#d1d4dc;font-size:14.5px;transform:scaleX(0.92);transform-origin:0 0">3200000</div><div class="t" style="left:1504.5px;top:219.5px;color:#d1d4dc;font-size:14.5px;transform:scaleX(0.92);transform-origin:0 0">2400000</div><div class="t" style="left:1504.5px;top:270.5px;color:#d1d4dc;font-size:14.5px;transform:scaleX(0.92);transform-origin:0 0">2000000</div><div class="t" style="left:1504.5px;top:306.7px;color:#d1d4dc;font-size:14.5px;transform:scaleX(0.92);transform-origin:0 0">200.0000</div><div class="t" style="left:1504.5px;top:360.2px;color:#d1d4dc;font-size:14.5px;transform:scaleX(0.92);transform-origin:0 0">0.0000</div><div class="t" style="left:1504.5px;top:412.7px;color:#d1d4dc;font-size:14.5px;transform:scaleX(0.92);transform-origin:0 0">−200.0000</div><div class="t" style="left:1504.5px;top:466.9px;color:#d1d4dc;font-size:14.5px;transform:scaleX(0.92);transform-origin:0 0">2.0000</div><div class="t" style="left:1504.5px;top:510.9px;color:#d1d4dc;font-size:14.5px;transform:scaleX(0.92);transform-origin:0 0">0.0000</div><div class="t" style="left:1504.5px;top:556.0px;color:#d1d4dc;font-size:14.5px;transform:scaleX(0.92);transform-origin:0 0">−2.0000</div><div class="t" style="left:1504.5px;top:638.5px;color:#d1d4dc;font-size:14.5px;transform:scaleX(0.92);transform-origin:0 0">0.0000</div><div class="t" style="left:1504.5px;top:696.5px;color:#d1d4dc;font-size:14.5px;transform:scaleX(0.92);transform-origin:0 0">−200000.0000</div><div class="t" style="left:1504.5px;top:782.5px;color:#d1d4dc;font-size:14.5px;transform:scaleX(0.92);transform-origin:0 0">40.0000</div><div class="t" style="left:1504.5px;top:828.5px;color:#d1d4dc;font-size:14.5px;transform:scaleX(0.92);transform-origin:0 0">30.0000</div><div class="t" style="left:1504.5px;top:874.5px;color:#d1d4dc;font-size:14.5px;transform:scaleX(0.92);transform-origin:0 0">20.0000</div><div class="t" style="left:6.3px;top:4px;color:#d1d4dc;font-size:19px;line-height:20px">bitbank</div><div class="t" style="left:83.2px;top:4px;color:#d1d4dc;font-size:19px;line-height:20px">1日</div><div class="t" style="left:124.4px;top:4px;color:#d1d4dc;font-size:19px;line-height:20px">btc_jpy</div><div class="t" style="left:244.9px;top:6px;color:#d1d4dc;font-size:14.9px;">始値</div><div class="t" style="left:275.7px;top:6px;color:#26a69a;font-size:14.9px;letter-spacing:-0.25px">2795070</div><div class="t" style="left:338.6px;top:6px;color:#d1d4dc;font-size:14.9px;">高値</div><div class="t" style="left:369px;top:6px;color:#26a69a;font-size:14.9px;letter-spacing:-0.25px">2814663</div><div class="t" style="left:432px;top:6px;color:#d1d4dc;font-size:14.9px;">安値</div><div class="t" style="left:462.8px;top:6px;color:#26a69a;font-size:14.9px;letter-spacing:-0.25px">2781309</div><div class="t" style="left:525.7px;top:6px;color:#d1d4dc;font-size:14.9px;">終値</div><div class="t" style="left:556px;top:6px;color:#26a69a;font-size:14.9px;letter-spacing:-0.25px">2812163</div><div class="t" style="left:619px;top:6px;color:#26a69a;font-size:14.9px;letter-spacing:-0.45px">+16468 (+0.59%)</div><div class="t" style="left:6.2px;top:36px;color:#d1d4dc;font-size:14.4px;">Volume</div><div class="t" style="left:65px;top:36px;color:#26a69a;font-size:14.4px;">14</div><div class="t" style="left:6px;top:64px;color:#d1d4dc;font-size:14.4px;">EMA 14 close 0</div><div class="t" style="left:114.8px;top:64px;color:#2196f3;font-size:14.4px;">2868755.2890</div><div class="t" style="left:6px;top:92px;color:#d1d4dc;font-size:14.4px;">Ichimoku 9 26 52 26</div><div class="t" style="left:150px;top:92px;color:#4caf50;font-size:14.4px;">2812163.0000</div><div class="t" style="left:249.7px;top:92px;color:#a5d6a7;font-size:14.4px;">3051473.0000</div><div class="t" style="left:348.7px;top:92px;color:#ef9a9a;font-size:14.4px;">2878567.0000</div><div class="t" style="left:6px;top:120px;color:#d1d4dc;font-size:14.4px;">EMA 53 close 0</div><div class="t" style="left:114.8px;top:120px;color:#ffeb3b;font-size:14.4px;">3027719.1651</div><div class="t" style="left:6px;top:313px;color:#d1d4dc;font-size:14.4px;">CCI 20</div><div class="t" style="left:58.2px;top:313px;color:#c6bf5c;font-size:14.4px;">−72.7417</div><div class="t" style="left:6px;top:466px;color:#d1d4dc;font-size:14.4px;">Fisher 9</div><div class="t" style="left:68.7px;top:466px;color:#2196f3;font-size:14.4px;">−1.6915</div><div class="t" style="left:128.2px;top:466px;color:#f57c00;font-size:14.4px;">−1.9709</div><div class="t" style="left:6px;top:620px;color:#d1d4dc;font-size:14.4px;">MACD 12 26 close 9</div><div class="t" style="left:146px;top:620px;color:#ffcdd2;font-size:14.4px;">−17526.4140</div><div class="t" style="left:237px;top:620px;color:#2196f3;font-size:14.4px;">−85740.1685</div><div class="t" style="left:329px;top:620px;color:#f57c00;font-size:14.4px;">−68213.7545</div><div class="t" style="left:6px;top:773px;color:#d1d4dc;font-size:14.4px;">ADX 14 14</div><div class="t" style="left:82.2px;top:773px;color:#ef5350;font-size:14.4px;">22.7422</div><div class="t" style="left:967.5px;top:79px;color:#ffffff;font-size:23px;line-height:26px">長期移動平均線は下落</div><div class="t" style="left:1290px;top:106px;color:#ffffff;font-size:23px;line-height:26px">雲は弱気示唆</div><div class="t" style="left:1018px;top:189.5px;color:#ffffff;font-size:23px;line-height:26px">価格は短期移動平均線を下回り推移</div><div class="t" style="left:1504.5px;top:166px;color:#ffffff;font-size:14.5px;transform:scaleX(0.92);transform-origin:0 0">2812163</div><div class="t" style="left:10px;width:80px;text-align:center;top:925px;color:#c5c8d0;font-size:14px;transform:scaleX(0.92);">13</div><div class="t" style="left:109.5px;width:80px;text-align:center;top:925px;color:#c5c8d0;font-size:14px;transform:scaleX(0.92);">22</div><div class="t" style="left:209.5px;width:80px;text-align:center;top:925px;color:#d1d4dc;font-size:14px;transform:scaleX(0.92);font-weight:bold">7月</div><div class="t" style="left:320px;width:80px;text-align:center;top:925px;color:#c5c8d0;font-size:14px;transform:scaleX(0.92);">11</div><div class="t" style="left:419px;width:80px;text-align:center;top:925px;color:#c5c8d0;font-size:14px;transform:scaleX(0.92);">20</div><div class="t" style="left:553px;width:80px;text-align:center;top:925px;color:#d1d4dc;font-size:14px;transform:scaleX(0.92);font-weight:bold">8月</div><div class="t" style="left:708px;width:80px;text-align:center;top:925px;color:#c5c8d0;font-size:14px;transform:scaleX(0.92);">15</div><div class="t" style="left:897px;width:80px;text-align:center;top:925px;color:#d1d4dc;font-size:14px;transform:scaleX(0.92);font-weight:bold">9月</div><div class="t" style="left:1019.4000000000001px;width:80px;text-align:center;top:925px;color:#c5c8d0;font-size:14px;transform:scaleX(0.92);">12</div><div class="t" style="left:1119.4px;width:80px;text-align:center;top:925px;color:#c5c8d0;font-size:14px;transform:scaleX(0.92);">21</div><div class="t" style="left:1230.3px;width:80px;text-align:center;top:925px;color:#d1d4dc;font-size:14px;transform:scaleX(0.92);font-weight:bold">10月</div><div class="t" style="left:1329.7px;width:80px;text-align:center;top:925px;color:#c5c8d0;font-size:14px;transform:scaleX(0.92);">10</div>
</body></html>
